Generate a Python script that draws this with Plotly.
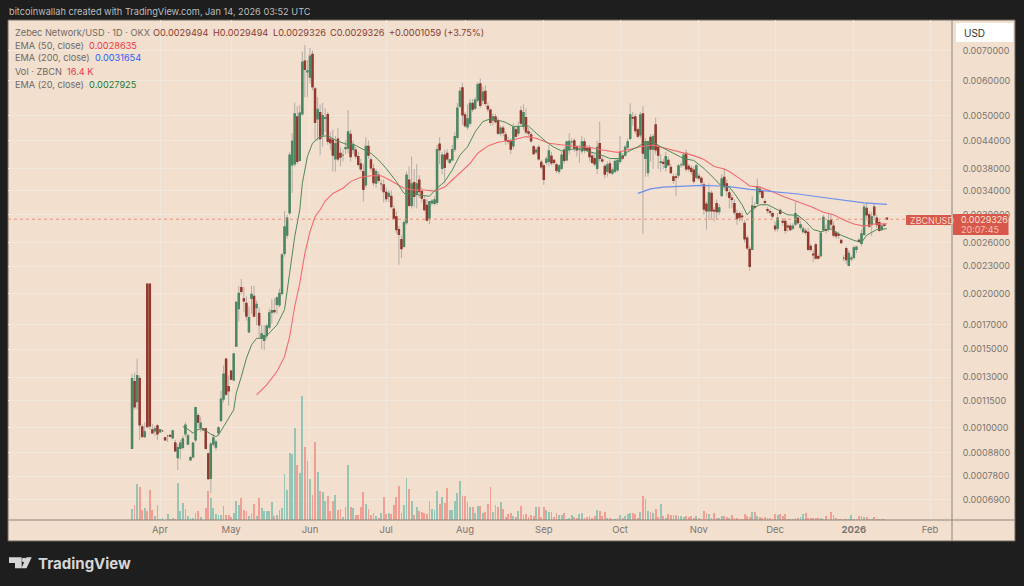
import numpy as np
import pandas as pd
import plotly.graph_objects as go

# prices are in 0.001 USD, volume in millions of ZBCN
open_ = [0.90,1.27,1.145,1.29,1.005,.956,2.10,2.10,.99,.985,
    1.01,.98,.985,.95,.96,.962,.95,.926,.858,.90,
    .904,.97,.92,.848,.861,.94,1.065,1.0,.995,.995,
    .875,.771,.92,.905,.975,1.04,1.16,1.425,1.237,1.34,
    1.28,1.525,1.85,2.06,1.945,1.90,1.64,1.95,1.97,1.86,
    1.805,1.59,1.57,1.61,1.68,1.815,1.83,1.89,1.885,2.0,
    2.46,2.70,3.03,3.88,3.90,4.97,3.97,5.05,6.63,6.27,
    6.1,6.86,5.74,4.92,5.08,4.53,4.93,5.03,4.43,4.41,
    4.0,4.43,4.12,4.08,4.22,4.23,4.54,4.2,4.19,4.05,
    3.9,3.75,3.5,4.27,3.98,3.8,3.53,3.68,3.52,3.5,
    3.37,3.3,3.3,3.09,2.97,2.78,2.64,2.55,2.88,3.59,
    3.15,3.54,3.34,3.59,3.38,3.24,3.15,2.95,3.19,3.18,
    3.2,4.32,3.81,4.08,4.12,3.93,3.98,4.21,4.47,5.25,
    5.77,5.02,4.72,4.81,5.33,5.2,5.42,5.89,5.42,5.67,
    5.25,5.15,4.89,4.97,4.87,4.57,4.69,4.53,4.40,4.37,
    4.28,4.65,4.57,5.13,4.73,4.95,4.6,4.53,4.26,4.15,
    4.25,3.93,3.86,3.93,3.95,4.06,3.97,3.88,3.75,3.81,
    4.19,3.98,4.19,4.37,4.39,4.26,4.21,4.17,4.37,4.22,
    4.23,4.06,4.01,3.81,4.33,3.98,3.85,3.75,3.9,3.72,
    3.75,3.78,3.95,4.06,4.08,4.25,4.45,4.95,4.97,4.65,
    4.53,5.05,4.01,3.73,4.47,4.21,4.77,4.26,3.93,3.93,
    3.83,3.97,3.83,3.65,3.65,3.68,3.88,3.88,4.12,3.85,
    3.81,3.78,3.64,3.66,3.62,3.5,3.17,3.06,3.35,3.07,
    3.18,3.05,3.31,3.64,3.52,3.36,3.27,3.18,3.02,3.02,
    2.98,2.87,2.66,2.51,2.51,3.13,3.18,3.42,3.38,3.21,
    3.08,3.05,3.02,2.83,2.8,3.07,2.9,2.9,2.83,2.83,
    2.8,2.86,2.95,2.81,2.75,2.76,2.74,2.55,2.45,2.57,
    2.42,2.43,2.78,2.78,2.79,2.92,2.83,2.73,2.71,2.63,
    2.4,2.52,2.31,2.39,2.41,2.51,2.63,2.59,2.71,3.1,
    3.0,2.85,3.12,2.95,2.88,2.78,2.85,2.9494]
close = [1.29,1.115,1.31,1.015,.956,.98,1.007,1.01,.975,.995,
    .97,.99,.985,.94,.96,.958,.985,.888,.903,.925,
    .945,1.015,.96,.858,.925,1.11,1.03,1.025,.99,.90,
    .77,.92,.95,.93,1.0,1.16,1.32,1.19,1.21,1.285,
    1.465,1.91,2.0,2.02,1.925,1.78,1.765,1.99,1.78,1.89,
    1.70,1.625,1.61,1.69,1.81,1.83,1.82,1.955,2.0,2.44,
    2.82,2.95,4.08,4.38,5.05,3.95,5.07,6.59,6.35,6.30,
    6.8,5.8,4.83,5.17,4.44,5.0,4.95,4.38,4.35,4.08,
    4.33,4.0,4.04,4.08,4.24,4.6,4.05,4.3,4.06,3.89,
    3.8,3.42,4.27,4.08,3.82,3.54,3.75,3.58,3.52,3.38,
    3.26,3.35,3.13,2.95,2.78,2.71,2.52,2.88,3.68,3.15,
    3.52,3.3,3.52,3.38,3.27,3.08,2.92,3.21,3.22,3.24,
    4.2,4.19,4.08,3.83,4.0,3.98,4.2,4.49,5.2,5.67,
    5.02,4.75,4.92,5.33,5.17,5.42,5.87,5.27,5.65,5.33,
    5.18,4.83,4.97,4.85,4.57,4.69,4.58,4.41,4.38,4.21,
    4.71,4.5,4.73,4.81,5.08,4.6,4.57,4.39,4.11,4.19,
    4.0,3.84,3.6,4.0,4.17,3.92,3.93,3.77,3.86,4.08,
    3.97,4.37,4.38,4.37,4.23,4.19,4.21,4.37,4.19,4.19,
    4.05,3.93,3.9,4.25,4.01,3.96,3.7,3.88,3.73,3.78,
    3.95,3.97,4.14,4.02,4.25,4.37,5.02,4.94,4.63,4.5,
    5.02,4.12,4.37,4.37,4.21,4.49,4.19,4.08,3.94,3.91,
    4.05,3.88,3.73,3.58,3.64,3.86,3.88,4.08,3.8,3.8,
    3.75,3.57,3.86,3.63,3.55,3.09,3.06,3.36,3.06,3.06,
    3.05,3.11,3.61,3.48,3.4,3.28,3.25,3.04,2.94,2.96,
    2.97,2.65,2.53,2.30,3.14,3.12,3.47,3.38,3.28,3.2,
    3.07,3.04,2.98,2.79,2.95,3.02,2.89,2.77,2.82,2.78,
    2.83,3.02,2.88,2.85,2.79,2.74,2.51,2.51,2.44,2.4,
    2.4,2.73,2.96,2.77,2.91,2.86,2.7,2.69,2.7,2.6,
    2.4,2.38,2.46,2.4,2.53,2.54,2.62,2.72,3.12,3.0,
    2.83,2.97,3.0,2.85,2.77,2.83,2.84,2.9326]
high = [1.32,1.33,1.43,1.31,1.02,1.03,2.10,2.10,1.02,1.01,
    1.02,.995,.99,.955,.965,.965,.99,.94,.92,.94,
    .96,1.03,.97,.865,.93,1.115,1.08,1.06,1.0,1.0,
    .88,.93,.97,.94,1.01,1.21,1.38,1.43,1.31,1.35,
    1.47,1.92,2.08,2.155,2.07,1.97,1.87,2.08,2.08,1.93,
    1.86,1.70,1.70,1.71,1.85,1.94,1.95,1.97,2.05,2.46,
    3.06,3.0,4.15,4.57,5.35,5.25,5.28,6.96,7.2,6.66,
    7.09,7.0,5.8,5.5,5.3,5.34,5.2,5.1,4.6,4.65,
    4.5,4.7,4.25,4.2,4.4,5.15,4.65,4.4,4.25,4.15,
    4.0,3.9,4.47,4.4,4.05,3.9,3.8,3.75,3.6,3.6,
    3.45,3.4,3.4,3.15,3.05,2.83,2.7,2.92,3.75,3.85,
    4.05,3.8,3.9,3.68,3.45,3.3,3.25,3.22,3.25,3.3,
    4.3,4.47,4.15,4.2,4.2,4.0,4.3,4.6,5.34,5.8,
    5.93,5.1,5.3,5.45,5.45,5.5,5.95,6.06,5.8,5.85,
    5.35,5.2,5.05,5.05,4.95,4.75,4.75,4.6,4.48,4.45,
    4.8,4.75,4.85,5.25,5.3,5.2,4.7,4.6,4.3,4.25,
    4.3,3.98,3.9,4.05,4.3,4.15,4.0,3.93,3.9,4.15,
    4.25,4.4,4.57,4.45,4.45,4.3,4.3,4.5,4.45,4.3,
    4.3,4.15,4.1,4.4,4.85,4.05,3.9,3.95,3.97,3.83,
    4.0,4.02,4.5,4.12,4.3,4.45,5.33,5.1,5.05,4.7,
    5.1,5.26,4.45,4.4,4.55,4.55,4.95,4.3,4.1,4.0,
    4.15,4.05,3.9,3.7,3.72,3.9,3.93,4.15,4.2,3.9,
    3.87,3.85,3.9,3.72,3.66,3.55,3.22,3.53,3.4,3.12,
    3.25,3.17,3.7,3.82,3.6,3.42,3.33,3.25,3.08,3.05,
    3.05,2.92,2.7,2.55,3.3,3.2,3.62,3.48,3.42,3.25,
    3.12,3.1,3.05,2.9,3.03,3.1,2.95,2.95,2.87,2.87,
    2.87,3.21,3.0,2.9,2.83,2.8,2.8,2.58,2.5,2.6,
    2.45,2.75,3.0,2.85,3.03,3.02,2.9,2.76,2.75,2.65,
    2.44,2.55,2.5,2.43,2.56,2.56,2.66,2.78,3.17,3.2,
    3.05,3.05,3.18,3.0,2.93,2.86,2.87,2.9494]
low = [0.90,1.10,1.10,.94,.955,.95,1.0,.99,.97,.96,
    .94,.975,.98,.935,.93,.955,.945,.885,.805,.85,
    .895,.955,.915,.845,.855,.93,1.0,.98,.985,.895,
    .765,.715,.91,.89,.96,1.03,1.14,1.18,1.12,1.28,
    1.27,1.52,1.73,1.99,1.82,1.74,1.63,1.80,1.77,1.70,
    1.59,1.50,1.495,1.58,1.66,1.71,1.80,1.80,1.86,1.98,
    2.42,2.65,3.0,3.36,3.85,3.9,3.95,5.0,5.5,5.5,
    5.9,5.7,4.41,4.4,4.08,4.26,4.6,4.3,4.2,3.75,
    3.75,3.95,3.85,3.95,4.1,4.12,3.95,4.1,4.0,3.85,
    3.75,3.21,3.45,4.0,3.75,3.48,3.45,3.53,3.4,3.2,
    3.2,3.2,3.1,2.92,2.72,2.32,2.4,2.53,2.85,3.12,
    3.1,3.12,3.1,3.27,3.2,3.05,2.9,2.86,3.15,3.15,
    3.15,3.9,3.7,3.53,3.95,3.9,3.95,4.15,4.42,5.2,
    4.77,4.7,4.65,4.75,5.1,5.15,5.35,5.2,5.3,5.25,
    5.1,4.75,4.75,4.8,4.53,4.5,4.5,4.3,4.32,4.1,
    4.2,4.45,4.5,4.75,4.65,4.55,4.5,4.35,4.08,4.1,
    3.97,3.8,3.5,3.88,3.85,3.87,3.88,3.72,3.7,3.78,
    3.9,3.95,4.1,4.25,4.15,4.05,3.92,4.1,4.12,4.15,
    3.95,3.9,3.85,3.7,3.95,3.92,3.62,3.65,3.7,3.68,
    3.72,3.75,3.9,3.98,4.05,4.2,4.4,4.75,4.55,4.45,
    4.45,2.72,3.65,3.65,3.95,3.8,4.1,3.8,3.75,3.8,
    3.75,3.85,3.7,3.52,3.3,3.62,3.82,3.85,3.75,3.75,
    3.7,3.52,3.6,3.58,3.5,3.0,2.78,2.92,2.95,2.9,
    2.92,3.0,3.3,3.4,3.3,3.1,3.1,3.0,2.85,2.9,
    2.9,2.6,2.5,2.25,2.5,3.08,3.15,3.33,3.25,3.15,
    3.02,2.99,2.95,2.75,2.75,3.0,2.83,2.72,2.75,2.76,
    2.77,2.83,2.85,2.78,2.72,2.7,2.49,2.48,2.35,2.38,
    2.38,2.41,2.75,2.72,2.75,2.8,2.67,2.65,2.65,2.58,
    2.36,2.33,2.3,2.36,2.38,2.46,2.6,2.55,2.69,2.95,
    2.8,2.69,2.95,2.8,2.75,2.76,2.82,2.9326]
volume = [33,45,108,100,30,36,26,90,30,13,
    46,3,6,1,18,3,6,3,111,26,
    50,33,12,5,5,20,26,10,1,35,
    88,65,36,18,15,16,43,16,14,10,
    20,58,46,66,31,28,12,21,48,13,
    66,36,26,28,28,55,13,15,30,36,
    138,91,201,198,276,166,141,373,220,176,
    123,75,235,145,88,83,58,73,28,56,
    76,30,33,10,38,166,40,36,16,16,
    38,83,48,33,15,21,13,5,20,68,
    18,20,18,45,70,103,20,45,125,92,
    58,16,38,28,23,21,18,56,33,31,
    88,48,68,50,96,31,31,56,80,118,
    73,73,53,38,40,21,43,43,21,23,
    48,98,23,45,38,55,33,8,18,21,
    13,8,26,41,16,18,8,16,13,38,
    40,8,38,30,23,23,8,21,16,16,
    21,3,6,16,8,5,18,21,6,8,
    13,5,13,31,28,13,23,6,6,2,
    3,5,15,7,11,18,21,22,18,7,
    25,73,63,26,24,21,32,10,47,13,
    5,19,16,15,15,12,12,10,11,10,
    12,5,13,5,2,27,21,18,5,21,
    7,5,13,13,8,7,16,6,7,4,
    4,19,11,9,23,24,13,10,7,10,
    5,7,3,18,16,18,12,18,4,3,
    2,6,7,8,18,20,5,5,7,6,
    7,5,3,12,2,24,14,5,3,3,
    2,2,4,15,2,2,13,13,9,8,
    3,2,8,3,2,2,2,0.0164]

ema20_day = [20,22,24,25,27,29,31,33,34,36,38,40,41,43,45,47,49,52,54,57,60,61,62,64,66,67,69,71,74,77,
    80,84,87,90,94,97,100,104,107,110,113,117,120,123,126,129,132,135,138,141,145,147,150,153,156,159,163,166,169,173,
    177,180,184,188,192,195,199,202,205,208,213,217,221,225,229,232,235,237,240,242,244,247,250,254,258,262,265,268,271,275,
    279,284,287,289,293,297]
ema20 = [1.007,.993,.973,.986,.996,.986,.968,.956,.964,1.01,1.051,1.097,1.196,1.303,1.432,1.534,1.587,1.587,1.63,1.70,1.84,2.04,2.22,2.68,3.08,3.53,4.05,4.34,4.49,4.51,
    4.41,4.32,4.32,4.23,4.12,3.98,3.81,3.56,3.35,3.34,3.32,3.30,3.44,3.56,3.78,4.08,4.26,4.60,4.85,4.92,4.87,4.83,4.73,4.74,4.74,4.57,4.37,4.25,4.17,4.21,
    4.21,4.15,4.10,4.01,4.01,4.15,4.26,4.37,4.37,4.26,4.12,4.01,3.97,3.81,3.62,3.47,3.46,3.35,3.16,3.0,3.09,3.16,3.16,3.08,3.0,2.99,2.90,2.78,2.75,2.79,
    2.70,2.63,2.60,2.70,2.78,2.7925]
ema50_day = [49,53,57,60,62,64,66,68,70,72,74,76,79,83,86,90,94,98,101,104,107,111,115,119,123,126,130,133,136,140,
    144,150,155,159,164,170,175,180,185,191,195,200,205,210,216,221,225,229,233,235,239,243,247,252,256,262,267,272,276,280,
    284,288,292,297]
ema50 = [1.185,1.248,1.337,1.444,1.60,1.87,2.11,2.46,2.75,2.97,3.08,3.22,3.35,3.44,3.56,3.64,3.67,3.67,3.60,3.52,3.44,3.41,3.41,3.39,3.46,3.59,3.78,3.91,4.12,4.28,
    4.36,4.41,4.49,4.45,4.34,4.30,4.26,4.25,4.19,4.14,4.19,4.26,4.30,4.23,4.14,4.07,3.99,3.85,3.80,3.75,3.62,3.48,3.46,3.38,3.30,3.21,3.13,3.04,3.0,2.92,
    2.86,2.83,2.86,2.8635]
ema200_day = [199,204,209,216,224,231,235,243,251,262,272,280,288,297]
ema200 = [3.35,3.43,3.46,3.47,3.49,3.48,3.47,3.42,3.39,3.34,3.28,3.24,3.19,3.1654]

month_dates = ["2025-04-03","2025-05-01","2025-06-01","2025-07-01","2025-08-01","2025-09-01",
    "2025-10-01","2025-11-01","2025-12-01","2026-01-01","2026-01-31"]
month_labels = ["Apr","May","Jun","Jul","Aug","Sep","Oct","Nov","Dec","<b>2026</b>","Feb"]
price_ticks = [0.0070,0.0060,0.0050,0.0044,0.0038,0.0034,0.0030,0.0026,0.0023,0.0020,0.0017,
    0.0015,0.0013,0.00115,0.0010,0.00088,0.00078,0.00069]
last_price = 0.0029326

FONT = "Inter"
BG = "#1e1e1e"
PANEL = "#f2dfce"
GRID = "#f0e7dd"
AXIS = "#8c8379"
TXT = "#7b7671"
LEGEND = "#6f6a66"
OHLC = "#8a3a30"

dates = pd.date_range("2025-03-23", periods=len(close), freq="D")
o = np.array(open_) / 1000
c = np.array(close) / 1000
h = np.array(high) / 1000
l = np.array(low) / 1000
day0 = pd.Timestamp("2025-03-23")


def ema_x(days):
    return [day0 + pd.Timedelta(days=d) for d in days]


def px(x):
    return (x - 8) / 944


def py(y):
    return (520 - y) / 500


def box(x0, y0, x1, y1, fill, line=None, layer="above"):
    return dict(type="rect", xref="paper", yref="paper", x0=px(x0), x1=px(x1), y0=py(y0), y1=py(y1),
                fillcolor=fill, line=dict(color=line or fill, width=1 if line else 0), layer=layer)


def label(x, y, text, color=TXT, size=9.2, anchor="left"):
    return dict(xref="paper", yref="paper", x=px(x), y=py(y), text=text, showarrow=False, xanchor=anchor,
                yanchor="middle", font=dict(family=FONT, size=size, color=color), align="left")


fig = go.Figure()
vol_colors = ["rgba(38,166,154,0.45)" if a >= b else "rgba(239,83,80,0.45)" for a, b in zip(c, o)]
fig.add_trace(go.Bar(x=dates, y=volume, marker=dict(color=vol_colors, line_width=0), width=0.72 * 86400000, yaxis="y"))

# wicks and bodies are separate so that wicks stay grey
fig.add_trace(go.Candlestick(x=dates, open=o, high=h, low=l, close=c, yaxis="y2", whiskerwidth=0,
    increasing=dict(line=dict(color="#b3aca5", width=1), fillcolor="#b3aca5"),
    decreasing=dict(line=dict(color="#b3aca5", width=1), fillcolor="#b3aca5")))
fig.add_trace(go.Candlestick(x=dates, open=o, high=np.maximum(o, c), low=np.minimum(o, c), close=c, yaxis="y2", whiskerwidth=0,
    increasing=dict(line=dict(color="#4b8763", width=1.2), fillcolor="#4b8763"),
    decreasing=dict(line=dict(color="#93392e", width=1.2), fillcolor="#93392e")))

fig.add_trace(go.Scatter(x=ema_x(ema50_day), y=np.array(ema50) / 1000, mode="lines", yaxis="y2",
                         line=dict(color="#f56a70", width=1.1)))
fig.add_trace(go.Scatter(x=ema_x(ema200_day), y=np.array(ema200) / 1000, mode="lines", yaxis="y2",
                         line=dict(color="#6d8ff0", width=1.2)))
fig.add_trace(go.Scatter(x=ema_x(ema20_day), y=np.array(ema20) / 1000, mode="lines", yaxis="y2",
                         line=dict(color="#4f8a58", width=1)))

shapes = [
    box(8, 20, 1015, 541, PANEL, "#6f675f", layer="below"),
    dict(type="line", xref="paper", yref="y2", x0=0, x1=px(906), y0=last_price, y1=last_price,
         line=dict(color="#e58a78", width=0.9, dash="dot"), layer="above"),
    dict(type="line", xref="paper", yref="paper", x0=px(952), x1=px(952), y0=py(20), y1=py(541),
         line=dict(color=AXIS, width=1), layer="above"),
    dict(type="line", xref="paper", yref="paper", x0=px(8), x1=px(1015), y0=py(520), y1=py(520),
         line=dict(color=AXIS, width=1), layer="above"),
    dict(type="rect", xref="paper", yref="paper", x0=px(956), x1=px(1013), y0=py(23), y1=py(42),
         fillcolor="white", line_width=0, layer="above"),
    box(906, 215, 951, 225, "#d9574a"),
    box(953, 214, 1008.5, 235, "#d9574a"),
    # TradingView logo
    dict(type="path", xref="paper", yref="paper", fillcolor="#d6d6d6", line_width=0, layer="above",
         path="M %f,%f L %f,%f L %f,%f L %f,%f L %f,%f L %f,%f Z" % (px(9), py(557.3), px(21.7), py(557.3), px(21.7), py(568.3),
                                                                      px(15), py(568.3), px(15), py(563), px(9), py(563))),
    dict(type="circle", xref="paper", yref="paper", x0=px(21.8), x1=px(26.4), y0=py(557.7), y1=py(562.3),
         fillcolor="#d6d6d6", line_width=0, layer="above"),
    dict(type="path", xref="paper", yref="paper", fillcolor="#d6d6d6", line_width=0, layer="above",
         path="M %f,%f L %f,%f L %f,%f L %f,%f Z" % (px(26.5), py(557.3), px(31.7), py(557.3), px(26.5), py(568.3), px(21.3), py(568.3))),
]

annotations = [
    label(7, 12, "bitcoinwallah created with TradingView.com, Jan 14, 2026 03:52 UTC", color="#bdbdbd", size=9.2),
    label(13, 32, "Zebec Network/USD · 1D · OKX", color=LEGEND),
    label(151, 32, "O0.0029494", color=OHLC),
    label(211, 32, "H0.0029494", color=OHLC),
    label(271, 32, "L0.0029326", color=OHLC),
    label(328, 32, "C0.0029326", color=OHLC),
    label(387, 32, "+0.0001059 (+3.75%)", color=OHLC),
    label(13, 45, 'EMA (50, close)  <span style="color:#f23645">0.0028635</span>', color=LEGEND),
    label(13, 58, 'EMA (200, close)  <span style="color:#2962ff">0.0031654</span>', color=LEGEND),
    label(13, 71, 'Vol · ZBCN  <span style="color:#f23645">16.4 K</span>', color=LEGEND),
    label(13, 84, 'EMA (20, close)  <span style="color:#1b7a35">0.0027925</span>', color=LEGEND),
    label(962, 33, "USD", color="#333333", size=10),
    label(908, 220, "ZBCNUSD", color="#f8d8cc", size=9),
    label(959, 219.5, "0.0029326", color="#fbe6dc", size=9),
    label(959, 229, "20:07:45", color="#f4c3b5", size=9),
    label(36, 563, "<b>TradingView</b>", color="#d6d6d6", size=15),
]

fig.update_layout(
    width=1024, height=586, margin=dict(l=8, r=72, t=20, b=66),
    paper_bgcolor=BG, plot_bgcolor=PANEL, showlegend=False, bargap=0,
    font=dict(family=FONT, size=11, color=TXT),
    shapes=shapes, annotations=annotations,
    xaxis=dict(type="date", range=[day0 - pd.Timedelta(days=48.8), day0 + pd.Timedelta(days=322.6)],
               rangeslider_visible=False, tickmode="array", tickvals=month_dates, ticktext=month_labels,
               showgrid=True, gridcolor=GRID, gridwidth=1, ticks="outside", ticklen=1, tickcolor="rgba(0,0,0,0)",
               tickfont=dict(family=FONT, size=9.5, color=TXT), showline=False, zeroline=False, automargin=False),
    yaxis=dict(range=[0, 1500], visible=False, showgrid=False, fixedrange=True, automargin=False),
    yaxis2=dict(type="log", overlaying="y", side="right", anchor="x",
                range=[np.log10(0.000622), np.log10(0.00819)],
                tickmode="array", tickvals=price_ticks, ticktext=["%.7f" % v for v in price_ticks],
                showgrid=True, gridcolor=GRID, gridwidth=1, ticks="outside", ticklen=8, tickcolor="rgba(0,0,0,0)",
                tickfont=dict(family=FONT, size=9, color=TXT), showline=False, zeroline=False, automargin=False),
)

fig.write_html("out.html", config=dict(displayModeBar=False),
               post_script="document.body.style.margin='0';document.body.style.background='%s';" % BG)
